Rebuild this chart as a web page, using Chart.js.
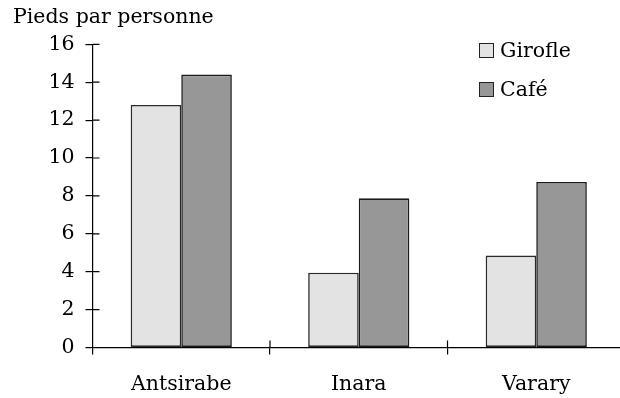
<!DOCTYPE html>
<html>
<head>
<meta charset="utf-8">
<script src="https://cdn.jsdelivr.net/npm/chart.js@4"></script>
<style>
  html, body { margin: 0; padding: 0; background: #fff; overflow: hidden; }
  #wrap { position: relative; width: 640px; height: 398px; }
  #legende { position: absolute; left: 479px; top: 40px; font-family: "DejaVu Serif", serif; font-size: 20.5px; color: #000; }
  .item { display: flex; align-items: center; height: 20px; margin-bottom: 19px; }
  .boite { width: 13px; height: 13px; border: 1px solid #222; margin-right: 6px; }
</style>
</head>
<body>
<div id="wrap">
  <canvas id="graphique" width="640" height="398"></canvas>
  <div id="legende"></div>
</div>
<script>
// Données
const lieux = ['Antsirabe', 'Inara', 'Varary'];
const girofle = [12.8, 3.95, 4.85];
const cafe = [14.4, 7.87, 8.74];
const graduations = [0, 2, 4, 6, 8, 10, 12, 14, 16];

const police = "'DejaVu Serif', serif";
const taille = 20.5;

// petits traits vers l'intérieur sur les axes
const traitsInterieurs = {
    id: 'traitsInterieurs',
    afterDraw(chart) {
        const ctx = chart.ctx;
        const zone = chart.chartArea;
        const y = chart.scales.y;
        const x = chart.scales.x;
        ctx.save();
        ctx.strokeStyle = '#000';
        ctx.lineWidth = 1.2;
        ctx.beginPath();
        y.ticks.forEach((t, i) => {
            const py = y.getPixelForTick(i);
            ctx.moveTo(zone.left, py);
            ctx.lineTo(zone.left + 7, py);
        });
        for (let i = 1; i < lieux.length; i++) {
            const px = x.getPixelForValue(i - 0.5);
            ctx.moveTo(px, zone.bottom);
            ctx.lineTo(px, zone.bottom - 7);
        }
        ctx.stroke();
        ctx.restore();
    }
};

const ctx = document.getElementById('graphique').getContext('2d');
const graphique = new Chart(ctx, {
    type: 'bar',
    data: {
        labels: lieux,
        datasets: [{
            label: 'Girofle',
            data: girofle,
            backgroundColor: '#e3e3e3',
            borderColor: '#2a2a2a',
            borderWidth: 1.6,
            borderSkipped: false
        }, {
            label: 'Café',
            data: cafe,
            backgroundColor: '#979797',
            borderColor: '#1a1a1a',
            borderWidth: 1.6,
            borderSkipped: false
        }]
    },
    options: {
        responsive: false,
        animation: false,
        layout: { padding: { left: 13, right: 15, top: 0, bottom: 0 } },
        datasets: { bar: { categoryPercentage: 0.57, barPercentage: 1 } },
        plugins: {
            legend: { display: false },
            tooltip: { enabled: false },
            title: {
                display: true,
                text: 'Pieds par personne',
                align: 'start',
                color: '#000',
                font: { family: police, size: taille, weight: 'normal', lineHeight: 1.2 },
                padding: { top: 5, bottom: 14.7 }
            }
        },
        scales: {
            x: {
                grid: { drawOnChartArea: false, color: '#000', tickLength: 7, lineWidth: 1.2 },
                border: { color: '#000', width: 1.2 },
                ticks: { color: '#000', padding: 18, font: { family: police, size: taille } },
                afterFit(s) { s.height = 50.5; }
            },
            y: {
                min: 0,
                max: 16,
                afterBuildTicks(s) { s.ticks = graduations.map(v => ({ value: v })); },
                grid: { drawOnChartArea: false, color: '#000', tickLength: 7, lineWidth: 1.2 },
                border: { color: '#000', width: 1.2 },
                ticks: { color: '#000', padding: 11, font: { family: police, size: taille } },
                afterFit(s) { s.width = 79.5; }
            }
        }
    },
    plugins: [traitsInterieurs]
});

// légende en HTML à partir des séries
const legende = document.getElementById('legende');
graphique.data.datasets.forEach(ds => {
    const item = document.createElement('div');
    item.className = 'item';
    const boite = document.createElement('div');
    boite.className = 'boite';
    boite.style.background = ds.backgroundColor;
    const texte = document.createElement('span');
    texte.textContent = ds.label;
    item.appendChild(boite);
    item.appendChild(texte);
    legende.appendChild(item);
});
</script>
</body>
</html>
